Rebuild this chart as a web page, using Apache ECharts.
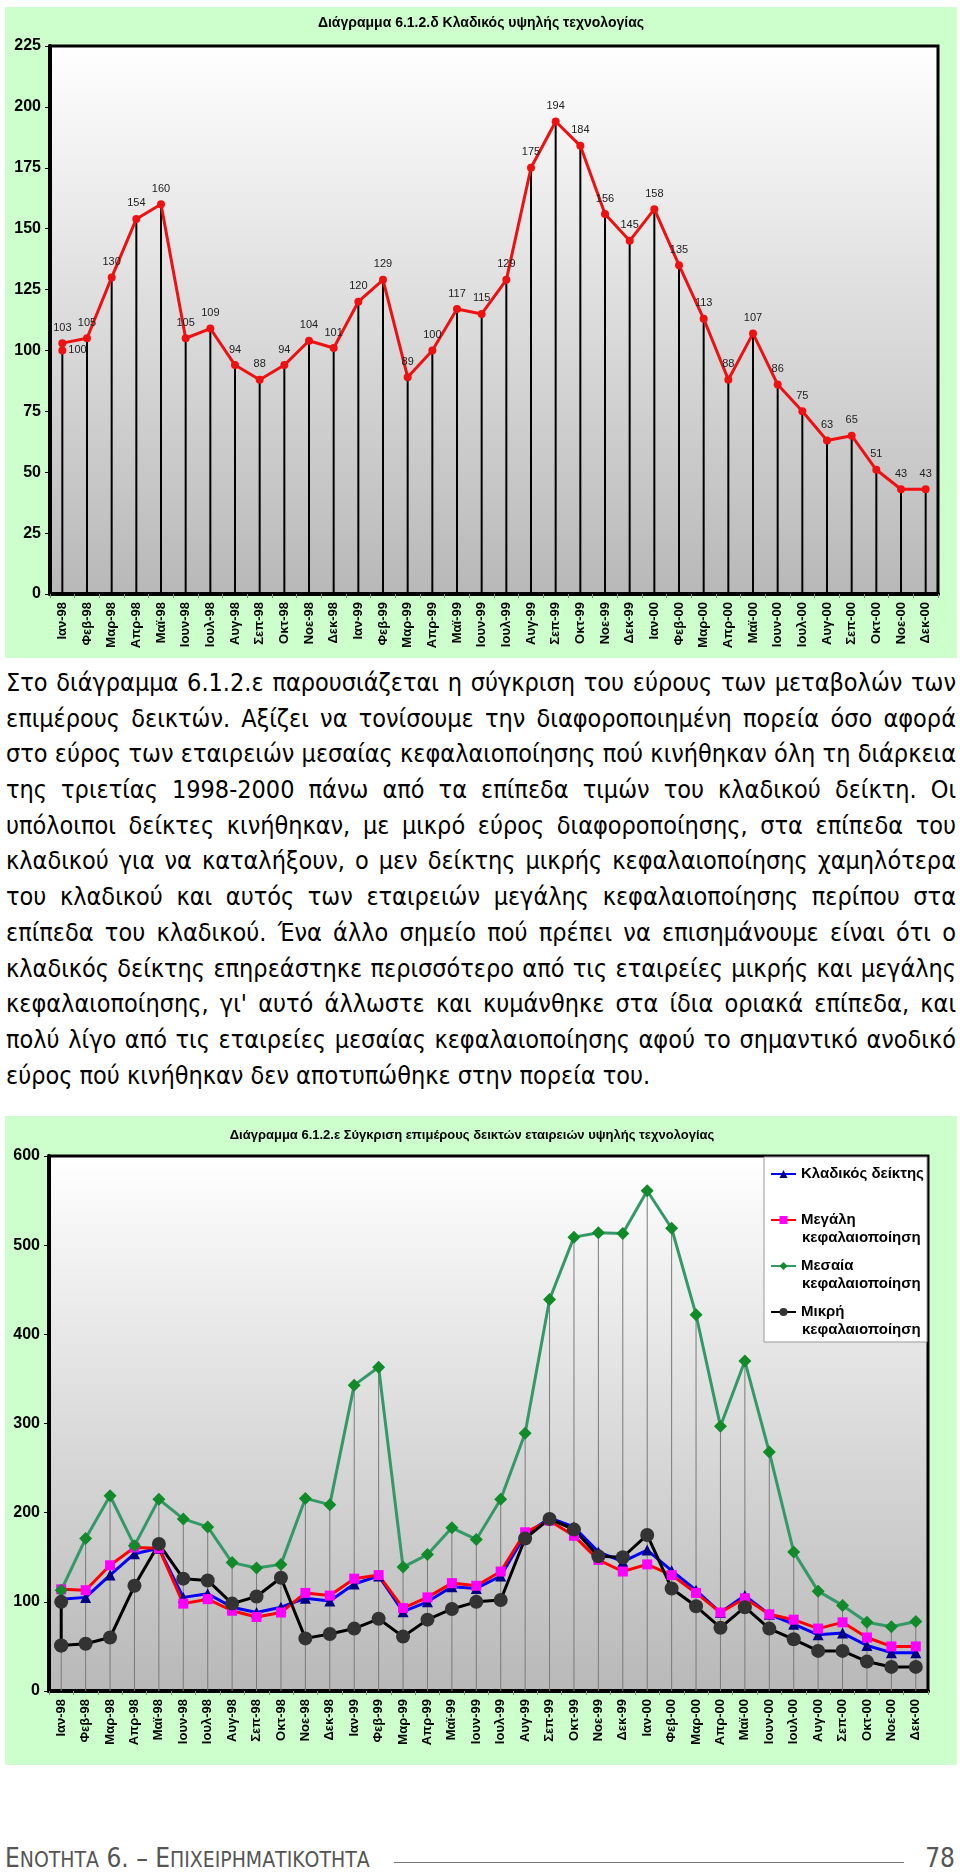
<!DOCTYPE html>
<html>
<head>
<meta charset="utf-8">
<script src="https://cdn.jsdelivr.net/npm/echarts@6/dist/echarts.min.js"></script>
<style>
  html, body { margin:0; padding:0; background:#fff; }
  body { width:960px; height:1873px; position:relative; overflow:hidden; }
  .panel { position:absolute; background:#ccffcc; }
  #para { position:absolute; left:6px; top:665px; width:950px;
          font-family:"DejaVu Sans Condensed","DejaVu Sans",sans-serif; font-size:25px; color:#000; }
  .ln { height:35.7px; line-height:35.7px; white-space:nowrap; }
  #footer { position:absolute; left:5px; top:1843px; font-family:"DejaVu Sans Condensed","DejaVu Sans",sans-serif;
            color:#555; font-size:26px; line-height:30px; white-space:nowrap; }
  #footer .s { font-size:21px; }
  #fline { position:absolute; left:394px; width:510px; top:1862px; height:1px; background:#777; }
  #pnum { position:absolute; right:5px; top:1843px; font-family:"DejaVu Sans Condensed","DejaVu Sans",sans-serif;
          color:#555; font-size:26px; line-height:30px; }
</style>
</head>
<body>
<div id="c1" class="panel" style="left:5px;top:7px;width:952px;height:651px;"></div>
<div id="para">
  <div class="ln j"><span>Στο διάγραμμα 6.1.2.ε παρουσιάζεται η σύγκριση του εύρους των μεταβολών των</span></div>
  <div class="ln j"><span>επιμέρους δεικτών. Αξίζει να τονίσουμε την διαφοροποιημένη πορεία όσο αφορά</span></div>
  <div class="ln j"><span>στο εύρος των εταιρειών μεσαίας κεφαλαιοποίησης πού κινήθηκαν όλη τη διάρκεια</span></div>
  <div class="ln j"><span>της τριετίας 1998-2000 πάνω από τα επίπεδα τιμών του κλαδικού δείκτη. Οι</span></div>
  <div class="ln j"><span>υπόλοιποι δείκτες κινήθηκαν, με μικρό εύρος διαφοροποίησης, στα επίπεδα του</span></div>
  <div class="ln j"><span>κλαδικού για να καταλήξουν, ο μεν δείκτης μικρής κεφαλαιοποίησης χαμηλότερα</span></div>
  <div class="ln j"><span>του κλαδικού και αυτός των εταιρειών μεγάλης κεφαλαιοποίησης περίπου στα</span></div>
  <div class="ln j"><span>επίπεδα του κλαδικού. Ένα άλλο σημείο πού πρέπει να επισημάνουμε είναι ότι ο</span></div>
  <div class="ln j"><span>κλαδικός δείκτης επηρεάστηκε περισσότερο από τις εταιρείες μικρής και μεγάλης</span></div>
  <div class="ln j"><span>κεφαλαιοποίησης, γι' αυτό άλλωστε και κυμάνθηκε στα ίδια οριακά επίπεδα, και</span></div>
  <div class="ln j"><span>πολύ λίγο από τις εταιρείες μεσαίας κεφαλαιοποίησης αφού το σημαντικό ανοδικό</span></div>
  <div class="ln"><span>εύρος πού κινήθηκαν δεν αποτυπώθηκε στην πορεία του.</span></div>
</div>
<div id="c2" class="panel" style="left:5px;top:1116px;width:952px;height:649px;"></div>
<div id="footer">Ε<span class="s">ΝΟΤΗΤΑ</span> 6. – Ε<span class="s">ΠΙΧΕΙΡΗΜΑΤΙΚΟΤΗΤΑ</span></div>
<div id="fline"></div>
<div id="pnum">78</div>

<script>
// ---------- DATA ----------
const months = ['Ιαν-98','Φεβ-98','Μαρ-98','Απρ-98','Μαϊ-98','Ιουν-98','Ιουλ-98','Αυγ-98','Σεπ-98','Οκτ-98','Νοε-98','Δεκ-98',
                'Ιαν-99','Φεβ-99','Μαρ-99','Απρ-99','Μαϊ-99','Ιουν-99','Ιουλ-99','Αυγ-99','Σεπ-99','Οκτ-99','Νοε-99','Δεκ-99',
                'Ιαν-00','Φεβ-00','Μαρ-00','Απρ-00','Μαϊ-00','Ιουν-00','Ιουλ-00','Αυγ-00','Σεπ-00','Οκτ-00','Νοε-00','Δεκ-00'];
const sectorIndex = [103,105,130,154,160,105,109,94,88,94,104,101,
                     120,129,89,100,117,115,129,175,194,184,156,145,
                     158,135,113,88,107,86,75,63,65,51,43,43];
const baseValue = 100; // base point at Ιαν-98
const largeCap = [114,113,141,161,160,98,103,90,83,88,110,107,
                  126,130,93,105,121,118,134,178,191,174,147,134,
                  142,130,110,88,104,86,80,70,77,60,50,50];
const midCap = [113,171,219,163,215,193,184,144,138,142,216,209,
                343,363,139,153,183,170,215,289,439,509,514,513,
                561,519,422,297,370,268,156,112,96,77,72,78];
const smallCap = [51,53,60,118,165,126,124,98,106,127,59,64,
                  70,81,61,80,92,100,102,171,193,181,151,150,
                  175,115,95,71,94,70,58,45,45,33,27,27];
const legendNames = ['Κλαδικός δείκτης','Μεγάλη κεφαλαιοποίηση','Μεσαία κεφαλαιοποίηση','Μικρή κεφαλαιοποίηση'];
const title1 = 'Διάγραμμα 6.1.2.δ Κλαδικός υψηλής τεχνολογίας';
const title2 = 'Διάγραμμα 6.1.2.ε Σύγκριση επιμέρους δεικτών εταιρειών υψηλής τεχνολογίας';

// ---------- COMMON STYLE ----------
const FONT = 'Liberation Sans, Arial, sans-serif';
const plotBg = {type:'linear', x:0, y:0, x2:0, y2:1, colorStops:[{offset:0,color:'#ffffff'},{offset:1,color:'#b8b8b8'}]};
function xAxis() {
  return {
    type:'category', data:months, boundaryGap:true,
    axisLine:{show:true, lineStyle:{color:'#000', width:4}},
    axisTick:{show:true, length:4, lineStyle:{color:'#888'}},
    axisLabel:{interval:0, rotate:90, margin:8, fontFamily:FONT, fontWeight:'bold', fontSize:13, color:'#000'},
    splitLine:{show:false}
  };
}
function yAxis(max, interval) {
  return {
    type:'value', min:0, max:max, interval:interval,
    axisLine:{show:true, lineStyle:{color:'#000', width:4}},
    axisTick:{show:true, length:5, lineStyle:{color:'#000', width:1}},
    axisLabel:{fontFamily:FONT, fontWeight:'bold', fontSize:16, color:'#000', margin:9},
    splitLine:{show:false}
  };
}

// ---------- CHART 1 ----------
const c1 = echarts.init(document.getElementById('c1'), null, {renderer:'canvas'});
c1.setOption({
  animation:false,
  backgroundColor:'#ccffcc',
  title:{text:title1, left:'center', top:4, textStyle:{fontFamily:FONT, fontWeight:'bold', fontSize:14, color:'#000'}},
  grid:{left:45, top:39, right:19, bottom:64, show:true, backgroundColor:plotBg, borderColor:'#000', borderWidth:3},
  xAxis:xAxis(),
  yAxis:yAxis(225, 25),
  series:[
    {type:'bar', data:sectorIndex, barWidth:2, itemStyle:{color:'#000'}, silent:true, z:1},
    {type:'line', data:sectorIndex, symbol:'circle', symbolSize:8,
     lineStyle:{color:'#ee1111', width:3}, itemStyle:{color:'#ee1111'},
     label:{show:true, position:'top', distance:6, fontFamily:FONT, fontSize:11, color:'#222'}, z:3},
    {type:'line', data:[[0, baseValue]], symbol:'circle', symbolSize:8,
     itemStyle:{color:'#ee1111'},
     label:{show:true, position:'right', distance:2, fontFamily:FONT, fontSize:11, color:'#222'}, z:3}
  ]
});

// ---------- CHART 2 ----------
const dropTop = months.map((m,i)=>Math.max(sectorIndex[i], largeCap[i], midCap[i], smallCap[i]));
const c2 = echarts.init(document.getElementById('c2'), null, {renderer:'canvas'});
const secondLineY = [122, 168, 214];
const twoLine = n => n.indexOf('κεφαλαιοποίηση') > 0;
c2.setOption({
  animation:false,
  backgroundColor:'#ccffcc',
  title:{text:title2, left:462, textAlign:'center', top:8, textStyle:{fontFamily:FONT, fontWeight:'bold', fontSize:13, color:'#000'}},
  grid:{left:44, top:40, right:29, bottom:74, show:true, backgroundColor:plotBg, borderColor:'#000', borderWidth:3},
  xAxis:xAxis(),
  yAxis:yAxis(600, 100),
  legend:{
    data:legendNames, orient:'vertical', left:765, top:49, padding:0, itemGap:28,
    itemWidth:25, itemHeight:10, z:5,
    formatter: n => twoLine(n) ? n.split(' ')[0] : n,
    textStyle:{fontFamily:FONT, fontWeight:'bold', fontSize:15, lineHeight:18, color:'#000'}
  },
  graphic:[
    {type:'rect', shape:{x:759, y:41, width:163, height:185}, style:{fill:'#fff', stroke:'#999', lineWidth:1}, z:3, silent:true}
  ].concat(legendNames.filter(twoLine).map((n,i)=>({
    type:'text', x:797, y:secondLineY[i], z:6, silent:true,
    style:{text:n.split(' ')[1], fontFamily:FONT, fontWeight:'bold', fontSize:15, fill:'#000', verticalAlign:'middle'}
  }))),
  series:[
    {type:'bar', data:dropTop, barWidth:1, itemStyle:{color:'#7a7a7a'}, silent:true, z:1, legendHoverLink:false},
    {name:legendNames[0], type:'line', data:sectorIndex, symbol:'triangle', symbolSize:11,
     lineStyle:{color:'#0000ff', width:3}, itemStyle:{color:'#000080'}, z:2},
    {name:legendNames[1], type:'line', data:largeCap, symbol:'rect', symbolSize:10,
     lineStyle:{color:'#ff0000', width:3}, itemStyle:{color:'#ff00ff'}, z:2},
    {name:legendNames[2], type:'line', data:midCap, symbol:'diamond', symbolSize:13,
     lineStyle:{color:'#339966', width:3}, itemStyle:{color:'#118a2a'}, z:2},
    {name:legendNames[3], type:'line', data:smallCap, symbol:'circle', symbolSize:14,
     lineStyle:{color:'#000000', width:3}, itemStyle:{color:'#333333'}, z:2},
    {type:'line', data:[[0, baseValue],[0, smallCap[0]]], symbol:'circle', symbolSize:14,
     lineStyle:{color:'#000000', width:3}, itemStyle:{color:'#333333'}, z:2}
  ]
});

// ---------- justify paragraph lines ----------
document.querySelectorAll('#para .ln.j span').forEach(sp => {
  const w = sp.getBoundingClientRect().width;
  const n = (sp.textContent.match(/ /g) || []).length;
  if (n) sp.style.wordSpacing = ((950 - w) / n) + 'px';
});
</script>
</body>
</html>
